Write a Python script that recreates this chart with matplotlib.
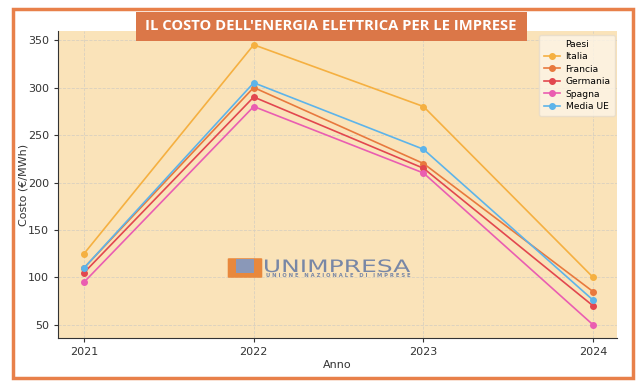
import matplotlib.pyplot as plt
import matplotlib.patches as patches
from matplotlib.textpath import TextPath
from matplotlib.font_manager import FontProperties
from matplotlib.transforms import Affine2D, IdentityTransform

# data
anni = [2021, 2022, 2023, 2024]
paesi = ["Italia", "Francia", "Germania", "Spagna", "Media UE"]
italia = [125, 345, 280, 100]
francia = [110, 300, 220, 85]
germania = [105, 290, 215, 70]
spagna = [95, 280, 210, 50]
media_ue = [110, 305, 235, 76]
colori = ["#F5B041", "#E8793E", "#E2474F", "#EA5DB1", "#5DB4EA"]

serie = [italia, francia, germania, spagna, media_ue]

W, H = 640, 386
fig = plt.figure(figsize=(6.4, 3.86), dpi=100)
ax = fig.add_axes([58 / W, 1 - 338 / H, 559 / W, 307 / H])
ax.set_facecolor("#FAE3B9")

for nome, valori, c in zip(paesi, serie, colori):
    ax.plot(anni, valori, marker="o", markersize=4, linewidth=1.2, color=c, label=nome)

ax.set_xlim(2020.847, 2024.14)
ax.set_ylim(36.3, 359.5)
ax.set_xticks(anni)
ax.set_yticks([50, 100, 150, 200, 250, 300, 350])
ax.tick_params(labelsize=8, colors="#333333", length=3)
ax.grid(True, linestyle="--", color="#D9D0C0", linewidth=0.6)
ax.spines["top"].set_visible(False)
ax.spines["right"].set_visible(False)
ax.spines["left"].set_color("#333333")
ax.spines["bottom"].set_color("#333333")
ax.set_xlabel("Anno", fontsize=8, color="#333333")
ax.set_ylabel("Costo (€/MWh)", fontsize=8, color="#333333")
ax.yaxis.set_label_coords(-30 / 559, 0.5)
ax.xaxis.set_label_coords(0.5, -22 / 307)

leg = ax.legend(title="Paesi", fontsize=6.6, title_fontsize=6.6, loc="upper right",
                frameon=True, borderpad=0.5, labelspacing=0.38, handlelength=1.8,
                handletextpad=0.6, borderaxespad=0, bbox_to_anchor=(0.997, 0.987))
leg.get_frame().set_facecolor("#FDF5E8")
leg.get_frame().set_edgecolor("#E6DCCB")

# outer orange border
fig.patches.append(patches.Rectangle((13 / W, 1 - 378 / H), 620 / W, 369 / H,
                                     transform=fig.transFigure, fill=False,
                                     edgecolor="#E8804A", linewidth=2.5))

# title banner
fig.patches.append(patches.Rectangle((136 / W, 1 - 41 / H), 391 / W, 29 / H,
                                     transform=fig.transFigure, facecolor="#DB7748",
                                     edgecolor="none"))
fig.text(331 / W, 1 - 26.5 / H, "IL COSTO DELL'ENERGIA ELETTRICA PER LE IMPRESE",
         ha="center", va="center", color="white", fontsize=10.6, fontweight="bold",
         family="Open Sans", zorder=5)

# watermark logo
fig.patches.append(patches.FancyBboxPatch((229 / W, 1 - 277 / H), 32 / W, 18 / H,
                                          boxstyle="round,pad=0.002", transform=fig.transFigure,
                                          facecolor="#E8883C", edgecolor="none"))
fig.patches.append(patches.Rectangle((236 / W, 1 - 273 / H), 18 / W, 14 / H,
                                     transform=fig.transFigure, facecolor="#8A98B8",
                                     edgecolor="none"))
tp = TextPath((0, 0), "UNIMPRESA", size=10, prop=FontProperties(family="DejaVu Sans"))
bb = tp.get_extents()
sx = 145 / bb.width
sy = 12.5 / 7.3
logo = patches.PathPatch(tp, facecolor="#7887A6", edgecolor="none",
                         transform=Affine2D().translate(-bb.x0, 0).scale(sx, sy).translate(265, H - 272)
                         + IdentityTransform())
fig.patches.append(logo)
fig.text(266 / W, 1 - 275.5 / H, "U N I O N E   N A Z I O N A L E   D I   I M P R E S E",
         ha="left", va="center", color="#7887A6", fontsize=3.8, fontweight="bold")

fig.savefig("out.png", dpi=100)
